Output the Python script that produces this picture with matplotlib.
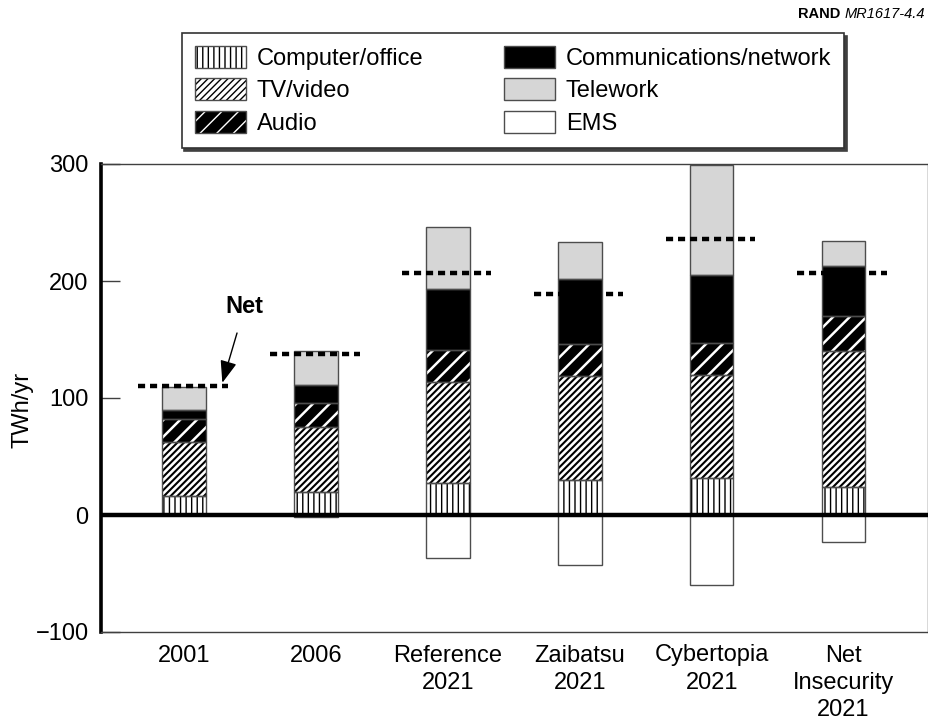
import matplotlib
matplotlib.use("Agg")
import matplotlib.pyplot as plt
from matplotlib.patches import Patch
from matplotlib.legend_handler import HandlerTuple
import numpy as np

plt.rcParams['font.family'] = ['Liberation Sans', 'DejaVu Sans']

categories = ['2001', '2006', 'Reference\n2021', 'Zaibatsu\n2021',
              'Cybertopia\n2021', 'Net\nInsecurity\n2021']
computer_office = [16, 20, 27, 30, 32, 24]
tv_video = [46, 55, 87, 89, 88, 116]
audio = [20, 21, 27, 27, 27, 30]
communications = [8, 15, 52, 56, 58, 43]
telework = [19, 29, 53, 31, 94, 21]
ems = [0, -2, -37, -43, -60, -23]
net = [110, 138, 207, 189, 236, 207]

series = [
    ('Computer/office', computer_office, dict(fc='white', hc='black', hatch='|||', hlw=1.0)),
    ('TV/video', tv_video, dict(fc='white', hc='black', hatch='/////', hlw=1.5)),
    ('Audio', audio, dict(fc='black', hc='white', hatch='//', hlw=1.8)),
    ('Communications/network', communications, dict(fc='black', hc='black', hatch=None, hlw=1.0)),
    ('Telework', telework, dict(fc='#d6d6d6', hc='#d6d6d6', hatch=None, hlw=1.0)),
]
ems_style = dict(fc='white', hc='white', hatch=None, hlw=1.0)

FS = 17

fig = plt.figure(figsize=(9.29, 7.21), dpi=100)
ax = fig.add_axes([101/929, 1-632/721, (928-101)/929, (632-164)/721])

x = np.arange(len(categories))
width = 0.33
outline_color = '0.3'


def style_patch(p, st):
    if st['hatch']:
        p.set_hatch(st['hatch'])
    if hasattr(p, 'set_hatch_linewidth'):
        p.set_hatch_linewidth(st['hlw'])


def draw_segment(xs, heights, bottoms, st):
    with plt.rc_context({'hatch.linewidth': st['hlw']}):
        bars = ax.bar(xs, heights, width, bottom=bottoms, color=st['fc'],
                      edgecolor=st['hc'], linewidth=0, zorder=2)
        for b in bars:
            style_patch(b, st)
    ax.bar(xs, heights, width, bottom=bottoms, fill=False,
           edgecolor=outline_color, linewidth=1.0, zorder=3)


bottom = np.zeros(len(categories))
for name, vals, st in series:
    vals = np.array(vals, dtype=float)
    draw_segment(x, vals, bottom, st)
    bottom += vals

ems_arr = np.array(ems, dtype=float)
draw_segment(x, ems_arr, np.zeros(len(categories)), ems_style)

# Net lines
for xi, n in zip(x, net):
    ax.plot([xi - 0.35, xi + 0.33], [n, n], color='black', lw=3.2,
            linestyle=(0, (1.6, 1.1)), solid_capstyle='butt',
            dash_capstyle='butt', zorder=5)

ax.axhline(0, color='black', lw=3.2, zorder=4)

ax.set_xlim(-0.63, 5.64)
ax.set_ylim(-100, 300)
ax.set_yticks([-100, 0, 100, 200, 300])
ax.set_yticklabels(['\u2212100', '0', '100', '200', '300'])
ax.set_xticks(x)
ax.set_xticklabels(categories, linespacing=1.3)
ax.tick_params(axis='x', length=0, pad=9, labelsize=FS)
ax.tick_params(axis='y', direction='in', length=14, width=1.0, pad=9,
               labelsize=FS, color='0.25')
for side in ['top', 'right', 'bottom']:
    ax.spines[side].set_linewidth(1.0)
    ax.spines[side].set_color('0.25')
ax.spines['left'].set_linewidth(2.6)

fig.text(23/929, 1-410/721, 'TWh/yr', rotation=90, va='center',
         ha='center', fontsize=FS)

# Net annotation
ax.annotate('Net', xy=(0.29, 113), xytext=(0.46, 178), ha='center',
            va='center', fontsize=FS, fontweight='bold',
            arrowprops=dict(arrowstyle='-|>,head_length=0.8,head_width=0.3',
                            color='black', lw=1.0, shrinkA=9, shrinkB=0))

# Legend
handles = []
labels = []
for name, vals, st in series + [('EMS', ems, ems_style)]:
    with plt.rc_context({'hatch.linewidth': st['hlw']}):
        p1 = Patch(facecolor=st['fc'], edgecolor=st['hc'], linewidth=0)
        style_patch(p1, st)
    p2 = Patch(fill=False, edgecolor=outline_color, linewidth=1.0)
    handles.append((p1, p2))
    labels.append(name)
leg = fig.legend(handles, labels,
                 handler_map={tuple: HandlerTuple(ndivide=1, pad=0)},
                 loc='upper center', bbox_to_anchor=(0.552, 1-33/721), ncol=2,
                 fontsize=FS, frameon=True, fancybox=False,
                 shadow={'color': '0.25', 'alpha': 1.0},
                 handlelength=2.16, handleheight=1.06, handletextpad=0.47,
                 labelspacing=0.35, columnspacing=3.4, borderpad=0.55,
                 borderaxespad=0)
leg.get_frame().set_edgecolor('0.2')
leg.get_frame().set_linewidth(1.2)

# Source tag
t_it = fig.text(0.996, 1-14/721, 'MR1617-4.4', ha='right', va='center',
                fontsize=10.5, style='italic')
ax.annotate('RAND ', xy=(0, 0.5), xycoords=t_it, ha='right', va='center',
            fontsize=10.5, fontweight='bold', annotation_clip=False)

fig.savefig('out.png', dpi=100)
